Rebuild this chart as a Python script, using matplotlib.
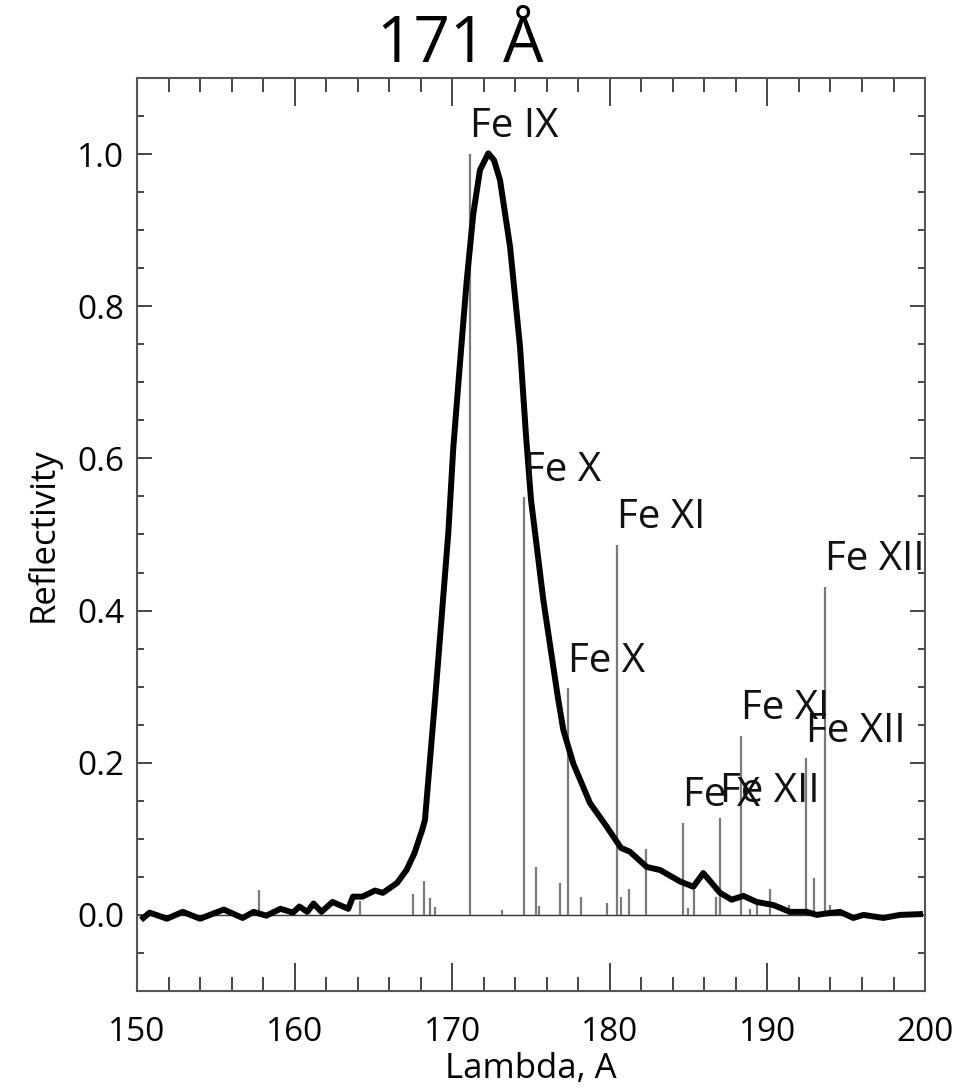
import matplotlib
matplotlib.use("Agg")
import matplotlib.pyplot as plt
import numpy as np

plt.rcParams['font.family'] = ['Open Sans', 'DejaVu Sans']

# -------------------------------------------------------------
# Data
# -------------------------------------------------------------
# mirror reflectivity curve (wavelength in A, normalised reflectivity)
wave = [150.4, 150.8, 151.9, 152.9, 154.0, 155.5, 156.7, 157.4, 158.2, 159.1,
        159.9, 160.3, 160.8, 161.2, 161.7, 162.4, 163.4, 163.7, 164.3, 165.1,
        165.6, 166.5, 167.1, 167.6, 168.1, 168.27, 168.91, 169.33, 169.75, 170.07,
        170.49, 170.92, 171.34, 171.76, 172.29, 172.65, 173.03, 173.67, 174.30, 174.68,
        175.0, 175.78, 176.42, 176.71, 177.05, 177.68, 178.74, 179.80, 180.71, 181.28,
        182.34, 183.19, 184.45, 185.30, 185.93, 186.99, 187.73, 188.47, 189.32, 190.37,
        191.43, 192.49, 193.13, 193.76, 194.61, 195.45, 196.09, 197.35, 198.41, 199.68]
refl = [-0.004, 0.003, -0.005, 0.004, -0.005, 0.007, -0.004, 0.004, -0.001, 0.008,
        0.003, 0.011, 0.004, 0.015, 0.004, 0.017, 0.008, 0.024, 0.024, 0.032,
        0.029, 0.042, 0.059, 0.081, 0.112, 0.125, 0.283, 0.392, 0.502, 0.615,
        0.725, 0.834, 0.922, 0.979, 1.001, 0.992, 0.966, 0.878, 0.747, 0.630,
        0.545, 0.414, 0.325, 0.285, 0.243, 0.199, 0.147, 0.116, 0.088, 0.083,
        0.063, 0.059, 0.044, 0.037, 0.055, 0.029, 0.020, 0.025, 0.017, 0.013,
        0.004, 0.004, 0.000, 0.002, 0.004, -0.004, 0.000, -0.004, 0.000, 0.001]

# emission line spectrum (position, relative intensity)
line_wave = [157.76, 164.15, 167.53, 168.21, 168.59, 168.91, 171.10, 173.14, 174.56, 175.32,
             175.53, 176.84, 177.35, 178.15, 179.80, 180.46, 180.69, 181.22, 182.28, 184.65,
             184.94, 185.34, 186.72, 187.00, 188.30, 188.91, 189.32, 190.17, 191.39, 192.45,
             192.96, 193.65, 193.97]
line_int = [0.033, 0.018, 0.028, 0.045, 0.022, 0.011, 1.000, 0.007, 0.549, 0.063,
            0.012, 0.042, 0.298, 0.024, 0.016, 0.486, 0.024, 0.034, 0.086, 0.121,
            0.009, 0.033, 0.024, 0.127, 0.235, 0.008, 0.013, 0.034, 0.013, 0.206,
            0.048, 0.431, 0.013]

# labelled ions
ion_wave = [171.10, 174.56, 180.46, 177.35, 193.65, 188.30, 192.45, 184.65, 187.00]
ion_int = [1.000, 0.549, 0.486, 0.298, 0.431, 0.235, 0.206, 0.121, 0.127]
ion_name = ['Fe IX', 'Fe X', 'Fe XI', 'Fe X', 'Fe XII', 'Fe XI', 'Fe XII', 'Fe X', 'Fe XII']

# -------------------------------------------------------------
# Plot
# -------------------------------------------------------------
fig = plt.figure(figsize=(9.57, 10.89), dpi=100)
ax = fig.add_axes([0.1432, 0.0900, 0.8234, 0.8384])

ax.axhline(0, color='#333333', lw=1.0, zorder=1)
ax.vlines(line_wave, 0, line_int, color='#7a7a7a', lw=1.6, zorder=2)
ax.plot(wave, refl, color='black', lw=4.3, zorder=3, solid_joinstyle='round')

for x, y, name in zip(ion_wave, ion_int, ion_name):
    ax.annotate(name, (x, y), xytext=(0, 12), textcoords='offset points',
                ha='left', va='baseline', fontsize=29, color='#111111',
                annotation_clip=False)

ax.set_xlim(150, 200)
ax.set_ylim(-0.1, 1.1)
ax.set_xticks(np.arange(150, 201, 10))
ax.set_xticks(np.arange(150, 201, 2), minor=True)
ax.set_yticks(np.arange(0, 1.01, 0.2))
ax.set_yticks(np.arange(-0.1, 1.1, 0.05), minor=True)
ax.yaxis.set_major_formatter(matplotlib.ticker.FormatStrFormatter('%.1f'))

ax.tick_params(axis='both', which='both', direction='in', top=True, right=True,
               color='#444444', width=1.4)
ax.tick_params(axis='x', which='major', length=20, pad=18, labelsize=24)
ax.tick_params(axis='x', which='minor', length=10)
ax.tick_params(axis='y', which='major', length=11, pad=9, labelsize=24)
ax.tick_params(axis='y', which='minor', length=5)

for s in ax.spines.values():
    s.set_color('#555555')
    s.set_linewidth(1.5)

ax.set_xlabel("Lambda, A", fontsize=25, labelpad=2)
ax.set_ylabel("Reflectivity", fontsize=25, labelpad=12)

fig.text(460 / 957, 1 - 62 / 1089, "171 Å", fontsize=46, ha='center', va='baseline')

fig.savefig("out.png", dpi=100)
